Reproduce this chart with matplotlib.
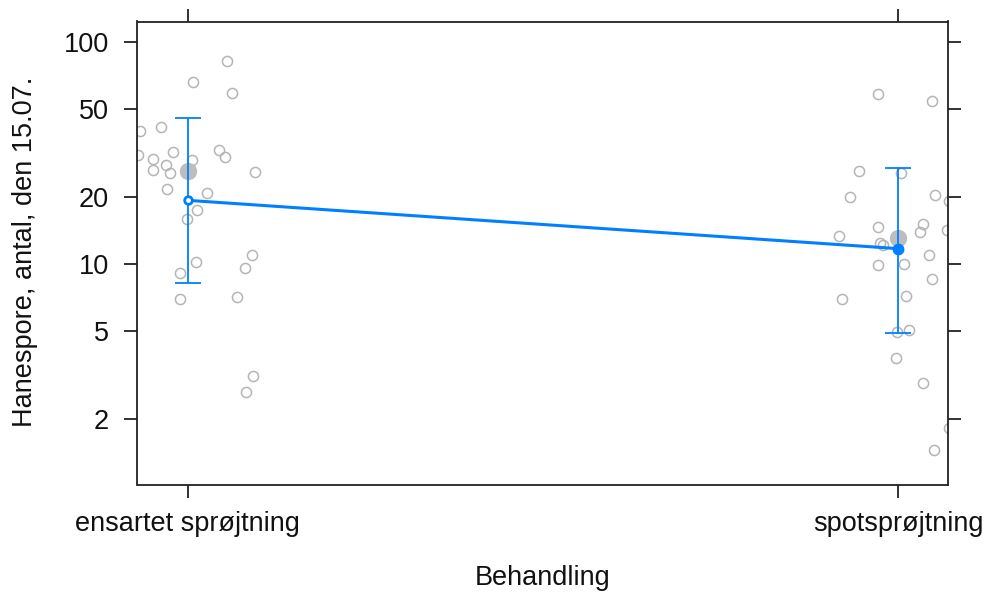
import matplotlib
matplotlib.use("Agg")
import matplotlib.pyplot as plt
import numpy as np

plt.rcParams['font.family'] = ['Liberation Sans', 'DejaVu Sans']

categories = ["ensartet sprøjtning", "spotsprøjtning"]
xlabel = "Behandling"
ylabel = "Hanespore, antal, den 15.07."

# jittered raw observations (x position in category units, value)
g1_x = [1.0545, 1.0066, 1.0624, 0.9324, 0.9615, 0.930, 0.9785, 0.9511, 0.9503,
        0.969, 0.9746, 1.0052, 1.0441, 1.0521, 1.0944, 0.9708, 1.0263, 1.0123,
        0.999, 1.0897, 1.0803, 1.0113, 0.9887, 0.9887, 1.0694, 1.092, 1.0817]
g1_y = [81.5, 65.6, 58.7, 39.7, 41.1, 31.0, 31.7, 29.6, 26.5,
        27.9, 25.6, 29.4, 32.6, 30.4, 25.8, 21.8, 20.8, 17.5,
        15.9, 11.0, 9.56, 10.2, 9.1, 6.96, 7.08, 3.13, 2.64]
g2_x = [1.9718, 2.0475, 1.9441, 2.0042, 1.9324, 2.0521, 2.0708, 1.9708, 2.0348,
        2.031, 2.0686, 1.9159, 1.9746, 1.9789, 2.0427, 1.9718, 2.0075, 2.0475,
        1.9207, 2.0113, 1.9982, 2.0145, 1.9968, 2.0348, 2.0708, 2.0497]
g2_y = [58.3, 54.2, 26.2, 25.6, 19.9, 20.5, 19.1, 14.6, 15.1,
        13.9, 14.2, 13.3, 12.4, 12.1, 11.0, 9.9, 10.0, 8.53,
        6.96, 7.13, 4.91, 5.04, 3.76, 2.90, 1.82, 1.45]

# raw group means (grey) and model estimates with confidence limits (blue)
raw_mean = [26.2, 13.05]
fit = [19.3, 11.7]
fit_lo = [8.18, 4.86]
fit_hi = [45.3, 27.0]

yticks = [2, 5, 10, 20, 50, 100]

W, H = 987, 594
fig = plt.figure(figsize=(W / 100, H / 100), dpi=100)
L, R, T, B = 137.5, 948, 21.5, 485
ax = fig.add_axes([L / W, 1 - B / H, (R - L) / W, (B - T) / H])

grey = '#b5b5b5'
blue = '#0080ff'

ax.plot(g1_x, g1_y, 'o', mfc='none', mec=grey, mew=1.1, ms=7.3, zorder=2)
ax.plot(g2_x, g2_y, 'o', mfc='none', mec=grey, mew=1.1, ms=7.3, zorder=2)
xs = [1, 2]
ax.plot(xs, raw_mean, 'o', color='#bdbdbd', ms=11.5, zorder=3)
ax.plot(xs, fit, '-', color=blue, lw=2.2, zorder=4)
ax.vlines(xs, fit_lo, fit_hi, color=blue, lw=1.3, zorder=4)
cap = 0.018
for x, lo, hi in zip(xs, fit_lo, fit_hi):
    ax.hlines([lo, hi], x - cap, x + cap, color=blue, lw=1.3, zorder=4)
ax.plot([1], [fit[0]], 'o', mfc='white', mec=blue, mew=2.0, ms=5.5, zorder=5)
ax.plot([2], [fit[1]], 'o', color=blue, ms=7.5, zorder=5)

ax.set_yscale('log')
ax.set_ylim(1.01, 123.2)
ax.set_xlim(0.929, 2.070)
ax.set_yticks(yticks)
ax.set_yticklabels([str(v) for v in yticks])
ax.minorticks_off()
ax.set_xticks(xs)
ax.set_xticklabels(categories)

for s in ax.spines.values():
    s.set_linewidth(1.3)
    s.set_color('#222222')
ax.tick_params(axis='both', which='major', direction='out', length=9.5, width=1.3,
               color='#222222', labelsize=19.5, labelcolor='#111111',
               top=True, right=True, labeltop=False, labelright=False)
ax.tick_params(axis='y', pad=11)
ax.tick_params(axis='x', pad=9)

fig.text(543 / W, 1 - 578 / H, xlabel, ha='center', va='center', fontsize=19.5, color='#111111')
fig.text(25 / W, 1 - 252 / H, ylabel, ha='center', va='center', rotation=90,
         fontsize=19.5, color='#111111')

fig.savefig('out.png', dpi=100)
